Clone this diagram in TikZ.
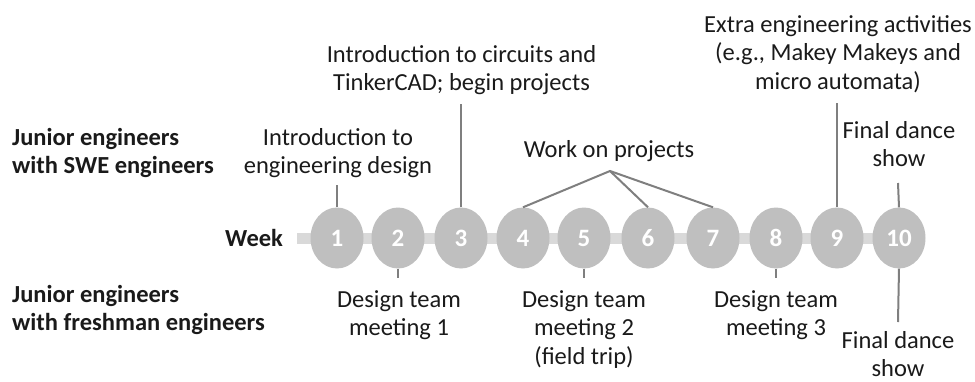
\documentclass[tikz,border=0pt]{standalone}
\usepackage{fontspec}
\setmainfont{Carlito}
\usetikzlibrary{shapes.geometric}
\definecolor{bubble}{HTML}{BFBFBF}
\definecolor{track}{HTML}{D9D9D9}
\definecolor{stem}{HTML}{7F7F7F}
\definecolor{ink}{HTML}{1A1A1A}
% multi-line label whose reference point is the first baseline
\newcommand{\tlines}[2][c]{\begin{tabular}[t]{@{}#1@{}}#2\end{tabular}}
\begin{document}
\begin{tikzpicture}[x=1pt,y=-1pt,
  week/.style={ellipse, fill=bubble, minimum width=53pt, minimum height=61pt,
    inner sep=0pt, text=white, font=\fontsize{25}{28}\selectfont\bfseries},
  lbl/.style={anchor=base, inner sep=0pt, text=ink,
    font=\fontsize{24.5}{28.5}\selectfont},
  head/.style={lbl, anchor=base west, font=\fontsize{24.5}{28.5}\selectfont\bfseries},
  stemline/.style={draw=stem, line width=2pt}]
\useasboundingbox (0,0) rectangle (975,381);

% timeline track
\coordinate (trackL) at (297,238);
\coordinate (trackR) at (880,238);
\draw[track, line width=11pt] (trackL) -- (trackR);

% week bubbles
\foreach \n/\x in {1/337,2/398,3/461,4/523,5/584,6/648,7/713,8/776,9/837,10/899}
  \node[week] (e\n) at (\x,238) {\n};

\node[head] (weeklbl) at (225,246) {Week};

% row headings
\node[head] (swe) at (12,145) {\tlines[l]{Junior engineers\\with SWE engineers}};
\node[head] (fresh) at (12,302) {\tlines[l]{Junior engineers\\with freshman engineers}};

% activities above the track
\node[lbl] (introdes) at (338,145) {\tlines{Introduction to\\engineering design}};
\node[lbl] (introcirc) at (461.5,62) {\tlines{Introduction to circuits and\\TinkerCAD; begin projects}};
\node[lbl] (work) at (609,157) {Work on projects};
\node[lbl] (extra) at (838,32) {\tlines{Extra engineering activities\\(e.g., Makey Makeys and\\micro automata)}};
\node[lbl] (finaltop) at (899,138) {\tlines{Final dance\\show}};

% activities below the track
\node[lbl] (meet1) at (399,307) {\tlines{Design team\\meeting 1}};
\node[lbl] (meet2) at (584,307) {\tlines{Design team\\meeting 2\\(field trip)}};
\node[lbl] (meet3) at (776,307) {\tlines{Design team\\meeting 3}};
\node[lbl] (finalbot) at (898,348) {\tlines{Final dance\\show}};

% stem ends
\coordinate (s1) at (337,185);
\coordinate (s2) at (398,278);
\coordinate (s3) at (461,104);
\coordinate (apex) at (610,171);
\coordinate (s5) at (584,278);
\coordinate (s8) at (776,278);
\coordinate (s9) at (837,103);
\coordinate (s10a) at (898,183);
\coordinate (s10b) at (898,322);

% stems
\draw[stemline] (e1.north) -- (s1);
\draw[stemline] (e2.south) -- (s2);
\draw[stemline] (e3.north) -- (s3);
\draw[stemline] (e4.north) -- (apex) -- (e7.north);
\draw[stemline] (apex) -- (e6.north);
\draw[stemline] (e5.south) -- (s5);
\draw[stemline] (e8.south) -- (s8);
\draw[stemline] (e9.north) -- (s9);
\draw[stemline] (e10.north) -- (s10a);
\draw[stemline] (e10.south) -- (s10b);
\end{tikzpicture}
\end{document}
